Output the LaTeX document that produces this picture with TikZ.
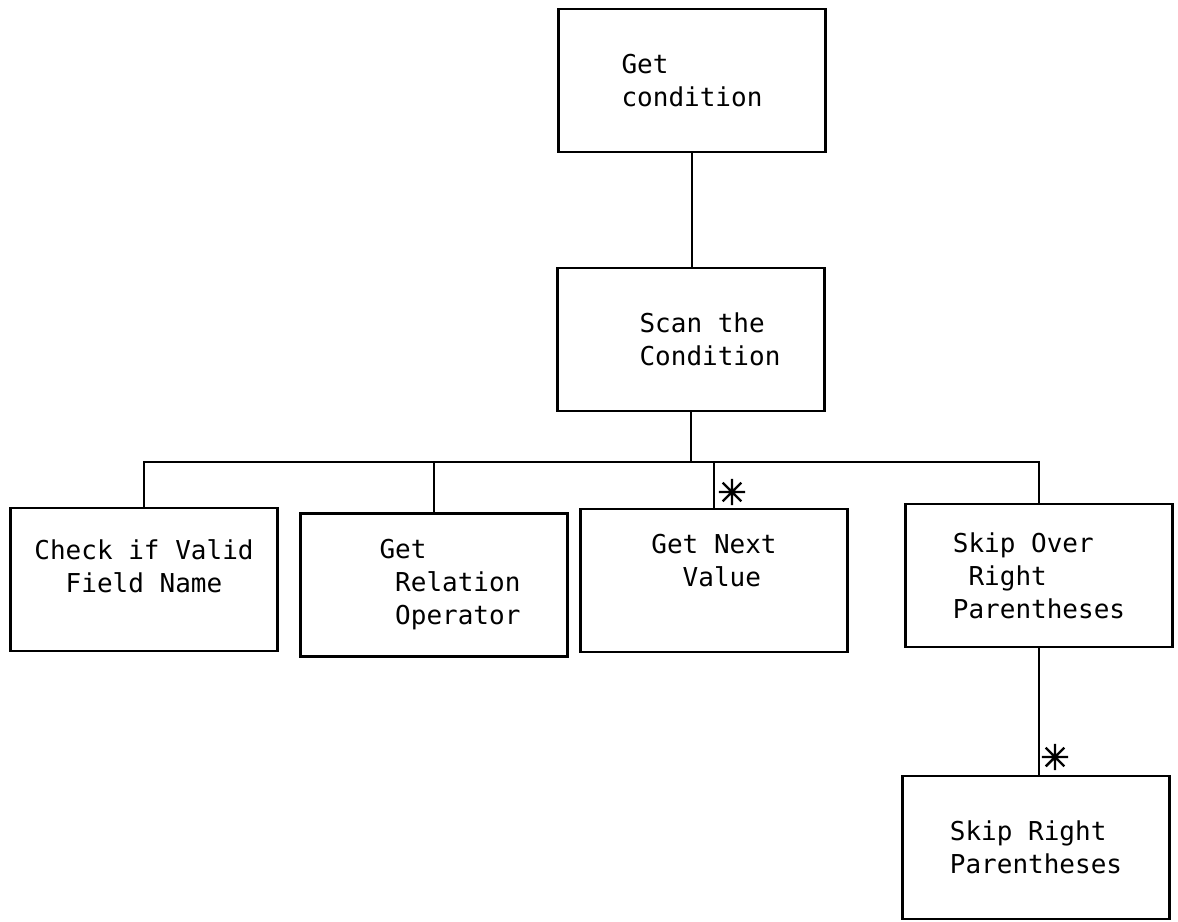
\documentclass[tikz,border=0pt]{standalone}
\usepackage{fontspec}
\setmonofont{DejaVu Sans Mono}
\newfontfamily\starfont[FakeBold=2]{DejaVu Sans}

\begin{document}
\begin{tikzpicture}[
		module/.style={draw, line width=.7pt, minimum width=2.67cm, minimum height=1.43cm, inner sep=0pt, align=left, font=\ttfamily\fontsize{7.4}{9.4}\selectfont},
		link/.style={line width=.7pt},
		rep/.style={inner sep=0pt, font=\starfont\fontsize{10}{10}\selectfont}]
			\useasboundingbox (0,0) rectangle (11.78,-9.21);
			
			\node[module] (cond) at (6.92,-.805) {Get\\condition};
			\node[module] (scan) at (6.91,-3.395) {\hspace*{.38cm}Scan the\\\hspace*{.38cm}Condition};
			
			\node[module, align=center, text depth=.26cm] (check) at (1.44,-5.795) {Check if Valid\\Field Name};
			\node[module] (relop) at (4.34,-5.85) {\hspace*{.32cm}Get\\\hspace*{.32cm}\phantom{x}Relation\\\hspace*{.32cm}\phantom{x}Operator};
			\node[module, text depth=.4cm] (nextval) at (7.14,-5.805) {Get Next\\\phantom{xx}Value};
			\node[module] (skipover) at (10.39,-5.755) {Skip Over\\\phantom{x}Right\\Parentheses};
			
			\node[module] (skipright) at (10.36,-8.475) {Skip Right\\Parentheses};
			
			% the bus under Scan the Condition
			\coordinate (bus) at (0,-4.62);
			
			\draw[link] (cond.south) to (cond.south |- scan.north);
			\draw[link] (scan.south) to (scan.south |- bus);
			
			\draw[link] (check.north) to (check.north |- bus) to (skipover.north |- bus) to (skipover.north);
			\draw[link] (relop.north) to (relop.north |- bus);
			\draw[link] (nextval.north) to (nextval.north |- bus);
			
			\draw[link] (skipover.south) to (skipover.south |- skipright.north);
			
			% iteration marks
			\node[rep] (repval) at (7.32,-4.92) {✳};
			\node[rep] (repskip) at (10.55,-7.57) {✳};
\end{tikzpicture}
\end{document}
